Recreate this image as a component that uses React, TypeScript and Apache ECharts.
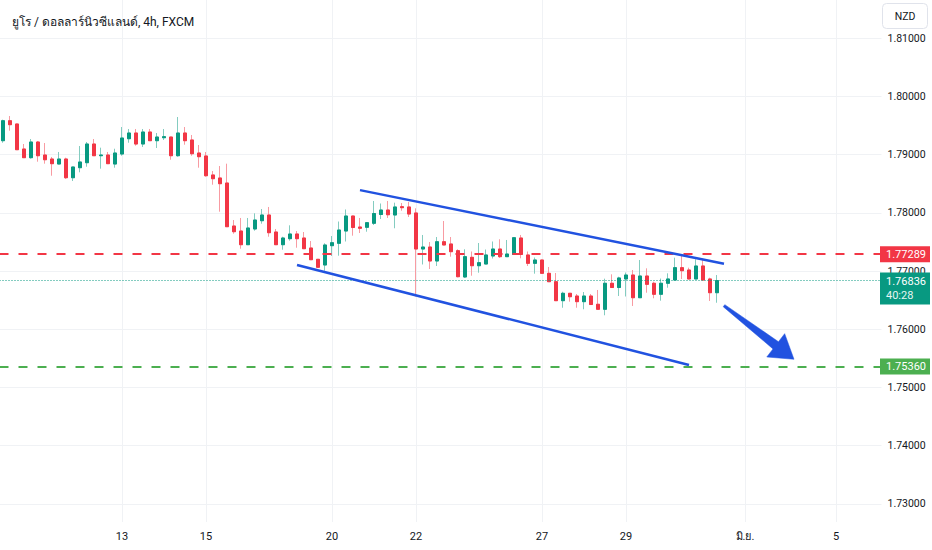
import React, { useEffect, useRef } from 'react';
import * as echarts from 'echarts';

const TITLE = 'ยูโร / ดอลลาร์นิวซีแลนด์, 4h, FXCM';
const CURRENCY = 'NZD';

// 4h bars: index 0..125 (last real candle at 102, the rest is the empty future area)
const BAR_COUNT = 126;
const CATEGORIES = Array.from({ length: BAR_COUNT }, (_, i) => String(i));
const DAY_TICKS: [number, string][] = [
  [17, '13'], [29, '15'], [47, '20'], [59, '22'], [77, '27'], [89, '29'], [106, 'มิ.ย.'], [119, '5'],
];

const OPEN = [
  1.79239, 1.79582, 1.79526, 1.79096, 1.78947, 1.79216, 1.78993, 1.78924, 1.78838, 1.78924,
  1.78603, 1.78775, 1.78861, 1.79182, 1.78981, 1.78993, 1.78838, 1.79010, 1.79273, 1.79371,
  1.79182, 1.79388, 1.79239, 1.79290, 1.79302, 1.78981, 1.79371, 1.79251, 1.79027, 1.78976,
  1.78650, 1.78598, 1.78512, 1.77773, 1.77687, 1.77452, 1.77722, 1.77864, 1.77962, 1.77670,
  1.77452, 1.77555, 1.77636, 1.77567, 1.77395, 1.77201, 1.77103, 1.77435, 1.77476, 1.77687,
  1.77945, 1.77756, 1.77751, 1.77820, 1.77971, 1.78048, 1.77962, 1.78105, 1.78100, 1.77997,
  1.77378, 1.77412, 1.77172, 1.77503, 1.77464, 1.77349, 1.76897, 1.77235, 1.77091, 1.77120,
  1.77258, 1.77378, 1.77246, 1.77284, 1.77567, 1.77275, 1.77132, 1.77189, 1.76960, 1.76816,
  1.76490, 1.76617, 1.76570, 1.76473, 1.76570, 1.76428, 1.76342, 1.76789, 1.76716, 1.76863,
  1.76931, 1.76541, 1.76914, 1.76789, 1.76600, 1.76789, 1.76845, 1.77057, 1.77017, 1.76863,
  1.77086, 1.76863, 1.76627,
];
const HIGH = [
  1.79600, 1.79663, 1.79530, 1.79182, 1.79268, 1.79234, 1.79199, 1.78959, 1.79045, 1.78947,
  1.78790, 1.79148, 1.79217, 1.79268, 1.79119, 1.79045, 1.79101, 1.79474, 1.79440, 1.79440,
  1.79440, 1.79440, 1.79371, 1.79440, 1.79305, 1.79646, 1.79474, 1.79337, 1.79165, 1.79045,
  1.78718, 1.78804, 1.78844, 1.77876, 1.77911, 1.77911, 1.77991, 1.78065, 1.78100, 1.77722,
  1.77589, 1.77785, 1.77687, 1.77670, 1.77515, 1.77205, 1.77476, 1.77601, 1.77850, 1.78057,
  1.77950, 1.77911, 1.77842, 1.78203, 1.78160, 1.78203, 1.78174, 1.78168, 1.78186, 1.78077,
  1.77619, 1.77498, 1.77584, 1.77859, 1.77584, 1.77373, 1.77373, 1.77335, 1.77481, 1.77369,
  1.77507, 1.77545, 1.77533, 1.77584, 1.77619, 1.77335, 1.77232, 1.77192, 1.77069, 1.76966,
  1.76644, 1.76620, 1.76605, 1.76639, 1.76605, 1.76674, 1.76868, 1.76943, 1.76902, 1.76974,
  1.77017, 1.77189, 1.77046, 1.76816, 1.76870, 1.76960, 1.77229, 1.77292, 1.77057, 1.77201,
  1.77201, 1.76885, 1.76931,
];
const LOW = [
  1.79204, 1.79411, 1.79080, 1.78945, 1.78930, 1.78878, 1.78844, 1.78637, 1.78835, 1.78581,
  1.78546, 1.78696, 1.78792, 1.78978, 1.78758, 1.78840, 1.78775, 1.78981, 1.79204, 1.79153,
  1.79131, 1.79235, 1.79113, 1.79251, 1.78912, 1.78964, 1.79170, 1.78981, 1.78775, 1.78620,
  1.78483, 1.78019, 1.77760, 1.77641, 1.77383, 1.77450, 1.77692, 1.77813, 1.77589, 1.77450,
  1.77366, 1.77521, 1.77400, 1.77380, 1.77189, 1.77060, 1.77005, 1.77258, 1.77263, 1.77507,
  1.77607, 1.77653, 1.77675, 1.77790, 1.77893, 1.77911, 1.77734, 1.78036, 1.77928, 1.76562,
  1.77112, 1.77034, 1.77086, 1.77445, 1.77246, 1.76892, 1.76880, 1.76919, 1.76971, 1.77118,
  1.77215, 1.77223, 1.77244, 1.77275, 1.77218, 1.77086, 1.76954, 1.76948, 1.76814, 1.76488,
  1.76369, 1.76473, 1.76369, 1.76342, 1.76422, 1.76340, 1.76239, 1.76713, 1.76570, 1.76562,
  1.76399, 1.76536, 1.76627, 1.76531, 1.76490, 1.76713, 1.76843, 1.76863, 1.76860, 1.76860,
  1.76843, 1.76485, 1.76455,
];
const CLOSE = [
  1.79582, 1.79514, 1.79084, 1.78947, 1.79216, 1.78981, 1.78912, 1.78844, 1.78924, 1.78603,
  1.78787, 1.78873, 1.79182, 1.78981, 1.78993, 1.78844, 1.79027, 1.79285, 1.79371, 1.79182,
  1.79388, 1.79239, 1.79302, 1.79308, 1.78981, 1.79371, 1.79239, 1.79015, 1.78964, 1.78637,
  1.78586, 1.78500, 1.77761, 1.77675, 1.77452, 1.77739, 1.77876, 1.77962, 1.77658, 1.77452,
  1.77567, 1.77636, 1.77555, 1.77383, 1.77194, 1.77064, 1.77447, 1.77486, 1.77704, 1.77945,
  1.77747, 1.77734, 1.77830, 1.77988, 1.78048, 1.77967, 1.78100, 1.78088, 1.77979, 1.77378,
  1.77412, 1.77172, 1.77503, 1.77447, 1.77332, 1.76902, 1.77246, 1.77091, 1.77143, 1.77275,
  1.77378, 1.77246, 1.77292, 1.77572, 1.77284, 1.77132, 1.77189, 1.76960, 1.76816, 1.76490,
  1.76617, 1.76558, 1.76473, 1.76570, 1.76424, 1.76342, 1.76789, 1.76716, 1.76880, 1.76931,
  1.76541, 1.76914, 1.76771, 1.76600, 1.76789, 1.76863, 1.77057, 1.77005, 1.76863, 1.77086,
  1.76845, 1.76627, 1.76836,
];

// price scale
const Y_MIN = 1.72;
const Y_MAX = 1.82;
const Y_STEP = 0.01;
const VIEW_LOW = 1.72687; // price at the top edge of the time scale

// horizontal levels
const RESISTANCE = 1.77289;
const TARGET = 1.7536;
const LAST_PRICE = 1.76836;
const COUNTDOWN = '40:28';

// drawings: [barIndex, price]
const CHANNEL_UPPER: [number, number][] = [[51, 1.7839], [103, 1.77125]];
const CHANNEL_LOWER: [number, number][] = [[42, 1.77103], [98, 1.75385]];
const ARROW: [number, number][] = [[103, 1.76404], [113, 1.75483]];

const UP = '#089981';
const DOWN = '#F23645';
const UP_WICK = '#84CCC0';
const DOWN_WICK = '#F89BA2';
const TARGET_GREEN = '#4CAF50';
const DRAW_BLUE = '#2152E0';
const TEXT = '#131722';
const GRID = '#F0F2F5';
const FONT = "Roboto, 'Noto Sans', 'DejaVu Sans', sans-serif";

export default function App() {
  const ref = useRef<HTMLDivElement>(null);

  useEffect(() => {
    if (!ref.current) return;
    const chart = echarts.init(ref.current, null, { renderer: 'svg' });
    const tickMap = new Map<number, string>(DAY_TICKS);
    const wickData = OPEN.map((o, i) => [o, CLOSE[i], LOW[i], HIGH[i]]);
    const bodyData = OPEN.map((o, i) => [o, CLOSE[i], Math.min(o, CLOSE[i]), Math.max(o, CLOSE[i])]);
    const cat = (i: number) => String(i);

    const boxLabel = (value: number, bg: string) => ({
      show: true,
      position: 'end',
      distance: -1.5,
      formatter: () => value.toFixed(5),
      backgroundColor: bg,
      color: '#ffffff',
      fontSize: 11,
      fontFamily: FONT,
      width: 38,
      padding: [2, 6, 2, 6],
      lineHeight: 12,
    });

    const option: any = {
      animation: false,
      backgroundColor: '#ffffff',
      textStyle: { fontFamily: FONT },
      title: {
        text: TITLE,
        left: 7,
        top: 11,
        textStyle: { fontSize: 12, fontWeight: 'normal', color: TEXT, fontFamily: FONT },
      },
      grid: {
        left: -0.5,
        top: -20,
        width: 882,
        height: 582,
        containLabel: false,
        outerBoundsMode: 'none',
      },
      xAxis: {
        type: 'category',
        data: CATEGORIES,
        boundaryGap: true,
        offset: -40,
        axisLine: { show: false },
        axisTick: { show: false },
        splitLine: { show: false },
        axisLabel: {
          interval: (idx: number) => tickMap.has(idx),
          formatter: (v: string) => tickMap.get(Number(v)) ?? '',
          color: TEXT,
          fontSize: 11,
          margin: 9,
          fontFamily: FONT,
        },
      },
      yAxis: {
        type: 'value',
        position: 'right',
        min: Y_MIN,
        max: Y_MAX,
        interval: Y_STEP,
        axisLine: { show: false },
        axisTick: { show: false },
        axisLabel: {
          formatter: (v: number) => v.toFixed(5),
          color: TEXT,
          fontSize: 10.5,
          margin: 6,
          fontFamily: FONT,
          showMinLabel: false,
          showMaxLabel: false,
        },
        splitLine: { lineStyle: { color: GRID, width: 1 } },
      },
      graphic: [
        {
          type: 'group',
          right: 4,
          top: 3,
          children: [
            {
              type: 'rect',
              shape: { x: 0, y: 0, width: 45, height: 25, r: 4 },
              style: { fill: '#ffffff', stroke: '#E0E3EB', lineWidth: 1 },
            },
            {
              type: 'text',
              x: 22.5,
              y: 12.5,
              style: {
                text: CURRENCY,
                fill: TEXT,
                fontSize: 10.5,
                fontFamily: FONT,
                align: 'center',
                verticalAlign: 'middle',
              },
            },
          ],
        },
      ],
      series: [
        {
          name: 'day-grid',
          type: 'line',
          data: [],
          silent: true,
          markLine: {
            silent: true,
            z: 1,
            precision: 5,
            symbol: ['none', 'none'],
            label: { show: false },
            lineStyle: { color: GRID, width: 1, type: 'solid' },
            data: DAY_TICKS.map(([i]) => [
              { coord: [cat(i), VIEW_LOW] },
              { coord: [cat(i), Y_MAX] },
            ]),
          },
        },
        {
          name: 'wicks',
          type: 'candlestick',
          data: wickData,
          barWidth: 3.5,
          z: 2,
          silent: true,
          itemStyle: {
            color: UP_WICK,
            color0: DOWN_WICK,
            borderColor: UP_WICK,
            borderColor0: DOWN_WICK,
            borderColorDoji: UP_WICK,
            borderWidth: 1,
          },
        },
        {
          name: 'bodies',
          type: 'candlestick',
          data: bodyData,
          barWidth: 3.5,
          z: 3,
          silent: true,
          itemStyle: {
            color: UP,
            color0: DOWN,
            borderColor: UP,
            borderColor0: DOWN,
            borderColorDoji: UP,
            borderWidth: 1,
          },
        },
        {
          name: 'levels',
          type: 'line',
          data: [],
          silent: true,
          markLine: {
            silent: true,
            z: 5,
            precision: 5,
            symbol: ['none', 'none'],
            data: [
              {
                yAxis: RESISTANCE,
                lineStyle: { color: DOWN, width: 2, type: [9, 10] },
                label: boxLabel(RESISTANCE, DOWN),
              },
              {
                yAxis: TARGET,
                lineStyle: { color: TARGET_GREEN, width: 2, type: [9, 10] },
                label: boxLabel(TARGET, TARGET_GREEN),
              },
              {
                yAxis: LAST_PRICE,
                lineStyle: { color: UP, width: 1, type: [1, 2] },
                label: {
                  show: true,
                  position: 'end',
                  distance: -1.5,
                  offset: [0, 8],
                  formatter: () => `{a|${LAST_PRICE.toFixed(5)}}\n{b|${COUNTDOWN}}`,
                  backgroundColor: UP,
                  width: 38,
                  padding: [2, 6, 2, 6],
                  rich: {
                    a: { color: '#ffffff', fontSize: 11, fontFamily: FONT, lineHeight: 14 },
                    b: { color: '#E6F5F2', fontSize: 11, fontFamily: FONT, lineHeight: 14 },
                  },
                },
              },
            ],
          },
        },
        {
          name: 'channel',
          type: 'line',
          data: [],
          silent: true,
          markLine: {
            silent: true,
            z: 6,
            precision: 5,
            symbol: ['none', 'none'],
            label: { show: false },
            lineStyle: { color: DRAW_BLUE, width: 2.5, type: 'solid' },
            data: [CHANNEL_UPPER, CHANNEL_LOWER].map((seg) => [
              { coord: [cat(seg[0][0]), seg[0][1]] },
              { coord: [cat(seg[1][0]), seg[1][1]] },
            ]),
          },
        },
        {
          name: 'arrow',
          type: 'custom',
          silent: true,
          z: 7,
          encode: { x: [0, 2], y: [1, 3] },
          data: [[ARROW[0][0], ARROW[0][1], ARROW[1][0], ARROW[1][1]]],
          renderItem: (_params: any, api: any) => {
            const s = api.coord([api.value(0), api.value(1)]);
            const t = api.coord([api.value(2), api.value(3)]);
            const dx = t[0] - s[0];
            const dy = t[1] - s[1];
            const len = Math.sqrt(dx * dx + dy * dy) || 1;
            const ux = dx / len;
            const uy = dy / len;
            const nx = -uy;
            const ny = ux;
            const headLen = 23;
            const headHalf = 14.7;
            const b = [t[0] - ux * headLen, t[1] - uy * headLen];
            const p = (base: number[], w: number) => [base[0] + nx * w, base[1] + ny * w];
            const points = [
              p(s, 1.3),
              p(b, 4.5),
              p(b, headHalf),
              t,
              p(b, -headHalf),
              p(b, -4.5),
              p(s, -1.3),
            ];
            return {
              type: 'polygon',
              shape: { points },
              style: { fill: DRAW_BLUE, stroke: DRAW_BLUE, lineWidth: 0.5 },
            };
          },
        },
      ],
    };

    chart.setOption(option);
    return () => chart.dispose();
  }, []);

  return (
    <div
      ref={ref}
      style={{ position: 'absolute', left: 0, top: 0, width: 932, height: 550, background: '#ffffff' }}
    />
  );
}
